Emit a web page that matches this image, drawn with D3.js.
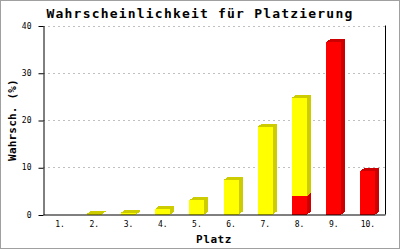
<!DOCTYPE html>
<html>
<head>
<meta charset="utf-8">
<script src="https://cdn.jsdelivr.net/npm/d3@7"></script>
<style>
  html, body { margin: 0; padding: 0; background: #fff; }
  svg { display: block; }
  .mono { font-family: "DejaVu Sans Mono", "Liberation Mono", monospace; }
  .axis text { font-family: "DejaVu Sans Mono", monospace; font-size: 8px; fill: #000; }
  .axis path, .axis line { stroke: #000; }
</style>
</head>
<body>
<svg id="chart" width="400" height="250"></svg>
<script>
// Placement probabilities (%), two stacked series
const places = ['1.', '2.', '3.', '4.', '5.', '6.', '7.', '8.', '9.', '10.'];
const redValues = [0, 0, 0, 0, 0, 0, 0, 3.9, 36.5, 9.2];
const yellowValues = [0, 0.1, 0.35, 1.2, 3.0, 7.3, 18.6, 20.8, 0, 0];
const yTicks = [0, 10, 20, 30, 40];

const W = 400;
const H = 250;
const margin = { top: 25.5, right: 15, bottom: 35.5, left: 43 };
const DEPTH_X = 4; // 3d side width
const DEPTH_Y = 3; // 3d top height
const BAR_W = 15;

const svg = d3.select('#chart');

// Frame
svg.append('rect')
  .attr('x', 0.5).attr('y', 0.5)
  .attr('width', W - 1).attr('height', H - 2)
  .attr('fill', '#fff')
  .attr('stroke', '#a0a0a0');

const x = d3.scaleBand()
  .domain(places)
  .range([margin.left, W - margin.right]);

const y = d3.scaleLinear()
  .domain([0, 40])
  .range([H - margin.bottom, margin.top]);

// Dashed grid
svg.append('g')
  .selectAll('line')
  .data(yTicks.filter((t) => t > 0))
  .join('line')
  .attr('x1', margin.left)
  .attr('x2', W - margin.right)
  .attr('y1', (d) => Math.round(y(d)) + 0.5)
  .attr('y2', (d) => Math.round(y(d)) + 0.5)
  .attr('stroke', '#c0c0c0')
  .attr('stroke-dasharray', '2,3');

// Build stacked segments: red at the bottom, yellow on top
const segments = [];
places.forEach((p, i) => {
  const parts = [
    { value: redValues[i], front: '#ff0000', dark: '#cc0000' },
    { value: yellowValues[i], front: '#ffff00', dark: '#cccc00' }
  ].filter((s) => s.value > 0);
  let base = 0;
  parts.forEach((s, k) => {
    segments.push({
      place: p,
      y0: base,
      y1: base + s.value,
      front: s.front,
      dark: s.dark,
      isTop: k === parts.length - 1
    });
    base += s.value;
  });
});

const bars = svg.append('g')
  .selectAll('g')
  .data(segments)
  .join('g')
  .attr('shape-rendering', 'crispEdges');

const bx0 = (d) => x(d.place) + (x.bandwidth() - BAR_W) / 2;

// Side face
bars.append('polygon')
  .attr('fill', (d) => d.dark)
  .attr('points', (d) => {
    const x1 = bx0(d) + BAR_W;
    const top = y(d.y1);
    const bot = y(d.y0);
    return [[x1, top], [x1 + DEPTH_X, top - DEPTH_Y], [x1 + DEPTH_X, bot - DEPTH_Y], [x1, bot]].join(' ');
  });

// Top face, only on the highest segment
bars.filter((d) => d.isTop)
  .append('polygon')
  .attr('fill', (d) => d.dark)
  .attr('points', (d) => {
    const x0 = bx0(d);
    const top = y(d.y1);
    return [[x0, top], [x0 + DEPTH_X, top - DEPTH_Y], [x0 + BAR_W + DEPTH_X, top - DEPTH_Y], [x0 + BAR_W, top]].join(' ');
  });

// Front face
bars.append('rect')
  .attr('x', bx0)
  .attr('y', (d) => y(d.y1))
  .attr('width', BAR_W)
  .attr('height', (d) => y(d.y0) - y(d.y1))
  .attr('fill', (d) => d.front);

// Axes
svg.append('g')
  .attr('class', 'axis')
  .attr('transform', `translate(${margin.left + 0.5},0)`)
  .call(d3.axisLeft(y).tickValues(yTicks).tickSize(5).tickSizeOuter(0).tickPadding(7))
  .call((g) => g.selectAll('.tick line').attr('transform', 'translate(0,0.5)'));

svg.append('g')
  .attr('class', 'axis')
  .attr('transform', `translate(0,${H - margin.bottom})`)
  .call(d3.axisBottom(x).tickSize(0).tickSizeOuter(0).tickPadding(7));

// Right border line
svg.append('line')
  .attr('x1', W - margin.right + 0.5).attr('x2', W - margin.right + 0.5)
  .attr('y1', y(40)).attr('y2', y(0))
  .attr('stroke', '#000');

// Titles
svg.append('text')
  .attr('class', 'mono')
  .attr('x', W / 2)
  .attr('y', 18)
  .attr('text-anchor', 'middle')
  .style('font-size', '13px')
  .style('font-weight', 'bold')
  .style('letter-spacing', '1.2px')
  .text('Wahrscheinlichkeit für Platzierung');

svg.append('text')
  .attr('class', 'mono')
  .attr('x', (margin.left + W - margin.right) / 2)
  .attr('y', 243)
  .attr('text-anchor', 'middle')
  .style('font-size', '11px')
  .style('font-weight', 'bold')
  .style('letter-spacing', '0.6px')
  .text('Platz');

svg.append('text')
  .attr('class', 'mono')
  .attr('transform', `translate(16,${(y(0) + y(40)) / 2}) rotate(-90)`)
  .attr('text-anchor', 'middle')
  .style('font-size', '11px')
  .style('font-weight', 'bold')
  .style('letter-spacing', '0.2px')
  .text('Wahrsch. (%)');
</script>
</body>
</html>
